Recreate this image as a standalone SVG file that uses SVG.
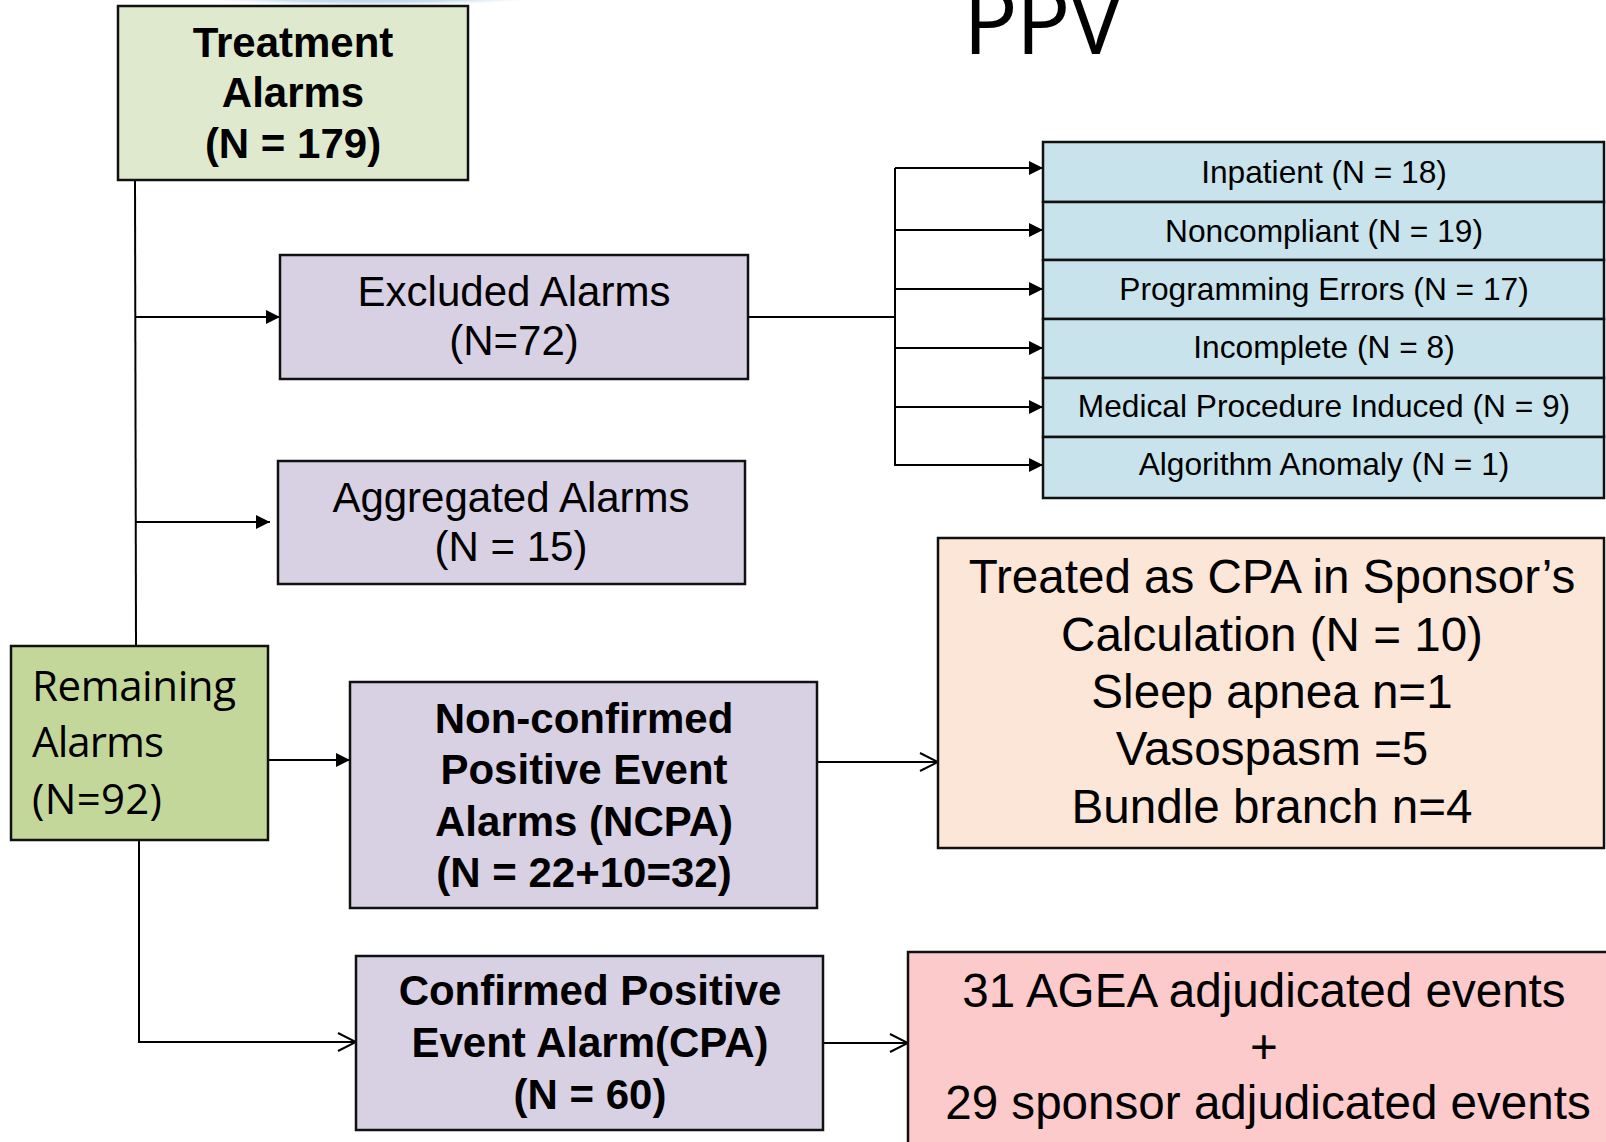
<svg xmlns="http://www.w3.org/2000/svg" width="1606" height="1142" viewBox="0 0 1606 1142">
<style>
  .box { stroke: #111; stroke-width: 2.5; }
  .green1 { fill: #dfe9cd; }
  .green2 { fill: #c4d79b; }
  .purple { fill: #d8d0e3; }
  .blue { fill: #c8e3eb; }
  .peach { fill: #fce6d8; }
  .pink { fill: #fccaca; }
  .b { font-family: "Liberation Sans", Arial, sans-serif; font-weight: bold; font-size: 42px; fill: #000; text-anchor: middle; }
  .r { font-family: "Liberation Sans", Arial, sans-serif; font-size: 42px; fill: #000; text-anchor: middle; }
  .s { font-family: "Liberation Sans", Arial, sans-serif; font-size: 31.7px; fill: #000; text-anchor: middle; }
  .l { font-family: "Liberation Sans", Arial, sans-serif; font-size: 47.6px; fill: #000; text-anchor: middle; }
  .c { font-family: "Open Sans", "Noto Sans", sans-serif; font-size: 42px; fill: #000; }
  .conn { stroke: #000; stroke-width: 2; fill: none; }
</style>
<defs>
  <marker id="fill" viewBox="0 0 14 14" refX="14" refY="7" markerWidth="14" markerHeight="14" markerUnits="userSpaceOnUse" orient="auto">
    <path d="M0,0 L14,7 L0,14 Z" fill="#000"/>
  </marker>
  <marker id="open" viewBox="0 0 20 20" refX="19" refY="10" markerWidth="20" markerHeight="20" markerUnits="userSpaceOnUse" orient="auto">
    <path d="M1,1 L19,10 L1,19" fill="none" stroke="#000" stroke-width="2"/>
  </marker>
  <radialGradient id="glow" cx="0.5" cy="0.5" r="0.5">
    <stop offset="0" stop-color="#7fb0d8" stop-opacity="0.9"/>
    <stop offset="0.7" stop-color="#a9cbe6" stop-opacity="0.6"/>
    <stop offset="1" stop-color="#d8e8f4" stop-opacity="0"/>
  </radialGradient>
</defs>
<rect width="1606" height="1142" fill="#fff"/>
<ellipse cx="370" cy="-6" rx="190" ry="12" fill="url(#glow)"/>

<text x="1043" y="54" font-family="Open Sans, Noto Sans, sans-serif" font-size="91" text-anchor="middle" textLength="160">PPV</text>

<g id="connectors">
  <line class="conn" x1="135" y1="180" x2="136" y2="646"/>
  <line class="conn" x1="135" y1="317" x2="280" y2="317" marker-end="url(#fill)"/>
  <line class="conn" x1="135" y1="522" x2="270" y2="522" marker-end="url(#fill)"/>
  <line class="conn" x1="748" y1="317" x2="895" y2="317"/>
  <line class="conn" x1="895" y1="168" x2="895" y2="466"/>
  <line class="conn" x1="895" y1="168" x2="1043" y2="168" marker-end="url(#fill)"/>
  <line class="conn" x1="895" y1="230" x2="1043" y2="230" marker-end="url(#fill)"/>
  <line class="conn" x1="895" y1="289" x2="1043" y2="289" marker-end="url(#fill)"/>
  <line class="conn" x1="895" y1="348" x2="1043" y2="348" marker-end="url(#fill)"/>
  <line class="conn" x1="895" y1="407" x2="1043" y2="407" marker-end="url(#fill)"/>
  <line class="conn" x1="895" y1="465" x2="1043" y2="465" marker-end="url(#fill)"/>
  <line class="conn" x1="268" y1="760" x2="350" y2="760" marker-end="url(#fill)"/>
  <line class="conn" x1="817" y1="762" x2="938" y2="762" marker-end="url(#open)"/>
  <polyline class="conn" points="139,840 139,1042 356,1042" marker-end="url(#open)"/>
  <line class="conn" x1="823" y1="1043" x2="908" y2="1043" marker-end="url(#open)"/>
</g>

<g id="treatment">
  <rect class="box green1" x="118" y="6" width="350" height="174"/>
  <text class="b" x="293" y="57">Treatment</text>
  <text class="b" x="293" y="107">Alarms</text>
  <text class="b" x="293" y="158">(N = 179)</text>
</g>

<g id="excluded">
  <rect class="box purple" x="280" y="255" width="468" height="124"/>
  <text class="r" x="514" y="306">Excluded Alarms</text>
  <text class="r" x="514" y="355">(N=72)</text>
</g>

<g id="aggregated">
  <rect class="box purple" x="278" y="461" width="467" height="123"/>
  <text class="r" x="511" y="512">Aggregated Alarms</text>
  <text class="r" x="511" y="561">(N = 15)</text>
</g>

<g id="reasons">
  <g id="inpatient">
    <rect class="box blue" x="1043" y="142" width="561" height="60"/>
    <text class="s" x="1324" y="183">Inpatient (N = 18)</text>
  </g>
  <g id="noncompliant">
    <rect class="box blue" x="1043" y="202" width="561" height="58"/>
    <text class="s" x="1324" y="242">Noncompliant (N = 19)</text>
  </g>
  <g id="programming">
    <rect class="box blue" x="1043" y="260" width="561" height="59"/>
    <text class="s" x="1324" y="300">Programming Errors (N = 17)</text>
  </g>
  <g id="incomplete">
    <rect class="box blue" x="1043" y="319" width="561" height="59"/>
    <text class="s" x="1324" y="358">Incomplete (N = 8)</text>
  </g>
  <g id="medical">
    <rect class="box blue" x="1043" y="378" width="561" height="59"/>
    <text class="s" x="1324" y="417">Medical Procedure Induced (N = 9)</text>
  </g>
  <g id="algorithm">
    <rect class="box blue" x="1043" y="437" width="561" height="61"/>
    <text class="s" x="1324" y="475">Algorithm Anomaly (N = 1)</text>
  </g>
</g>

<g id="remaining">
  <rect class="box green2" x="11" y="646" width="257" height="194"/>
  <text class="c" x="32" y="701" textLength="204">Remaining</text>
  <text class="c" x="32" y="757" textLength="132">Alarms</text>
  <text class="c" x="32" y="814" textLength="130">(N=92)</text>
</g>

<g id="ncpa">
  <rect class="box purple" x="350" y="682" width="467" height="226"/>
  <text class="b" x="584" y="733">Non-confirmed</text>
  <text class="b" x="584" y="784">Positive Event</text>
  <text class="b" x="584" y="836">Alarms (NCPA)</text>
  <text class="b" x="584" y="887">(N = 22+10=32)</text>
</g>

<g id="cpa">
  <rect class="box purple" x="356" y="956" width="467" height="174"/>
  <text class="b" x="590" y="1005">Confirmed Positive</text>
  <text class="b" x="590" y="1057">Event Alarm(CPA)</text>
  <text class="b" x="590" y="1109">(N = 60)</text>
</g>

<g id="treated">
  <rect class="box peach" x="938" y="538" width="666" height="310"/>
  <text class="l" x="1272" y="593">Treated as CPA in Sponsor’s</text>
  <text class="l" x="1272" y="651">Calculation (N = 10)</text>
  <text class="l" x="1272" y="708">Sleep apnea n=1</text>
  <text class="l" x="1272" y="765">Vasospasm =5</text>
  <text class="l" x="1272" y="823">Bundle branch n=4</text>
</g>

<g id="adjudicated">
  <rect class="box pink" x="908" y="952" width="720" height="220"/>
  <text class="l" x="1264" y="1007">31 AGEA adjudicated events</text>
  <text class="l" x="1264" y="1063">+</text>
  <text class="l" x="1268" y="1119">29 sponsor adjudicated events</text>
</g>
</svg>
